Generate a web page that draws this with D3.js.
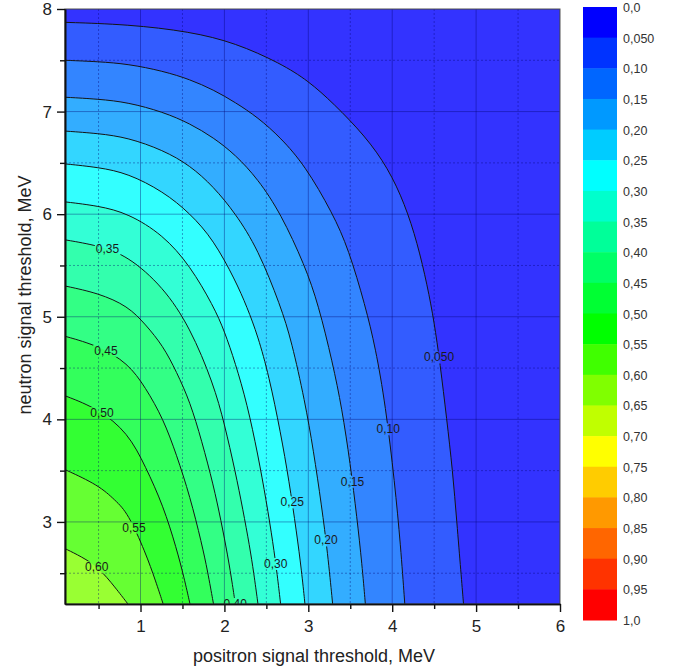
<!DOCTYPE html>
<html><head><meta charset="utf-8">
<script src="https://cdn.jsdelivr.net/npm/d3@7"></script>
<style>
body{margin:0;background:#fff;}
text{font-family: Arial, "Liberation Sans", sans-serif;}
</style>
</head><body>
<svg id="chart" width="681" height="671"></svg>
<script>
// ---------- data ----------
const levels = [0.05,0.10,0.15,0.20,0.25,0.30,0.35,0.40,0.45,0.50,0.55,0.60];
const levelLabels = ["0,050","0,10","0,15","0,20","0,25","0,30","0,35","0,40","0,45","0,50","0,55","0,60"];
// contour lines: [positron threshold, neutron threshold]
const c005 = [[0.1,7.87],[0.85,7.85],[1.59,7.78],[2.13,7.67],[2.67,7.47],[3.0,7.3],[3.3,7.08],[3.68,6.76],[3.95,6.45],[4.15,6.1],[4.3,5.72],[4.42,5.3],[4.5,4.95],[4.57,4.55],[4.65,4.0],[4.72,3.5],[4.77,3.0],[4.82,2.5],[4.85,2.2]];
const c010 = [[0.1,7.50],[0.5,7.487],[0.85,7.464],[1.27,7.395],[1.59,7.313],[1.87,7.212],[2.13,7.09],[2.40,6.942],[2.67,6.746],[2.96,6.475],[3.29,6.009],[3.48,5.66],[3.68,5.104],[3.80,4.70],[3.92,4.14],[4.03,3.38],[4.10,2.77],[4.15,2.2]];
const c015 = [[0.1,7.14],[0.5,7.122],[0.85,7.09],[1.27,6.996],[1.59,6.883],[1.87,6.746],[2.13,6.58],[2.40,6.342],[2.67,6.009],[2.96,5.498],[3.12,5.119],[3.29,4.549],[3.40,4.11],[3.50,3.568],[3.58,3.04],[3.64,2.586],[3.68,2.2]];
const c020 = [[0.1,6.81],[0.5,6.787],[0.85,6.746],[1.27,6.624],[1.59,6.475],[1.87,6.268],[2.13,6.009],[2.40,5.66],[2.67,5.104],[2.80,4.765],[2.96,4.172],[3.06,3.704],[3.16,3.148],[3.23,2.70],[3.29,2.2]];
const c025 = [[0.1,6.49],[0.5,6.457],[0.85,6.398],[1.27,6.221],[1.59,6.009],[1.87,5.75],[2.13,5.356],[2.27,5.094],[2.40,4.81],[2.53,4.427],[2.67,3.87],[2.77,3.402],[2.86,2.90],[2.92,2.52],[2.96,2.2]];
const c030 = [[0.1,6.12],[0.5,6.081],[0.85,6.009],[1.27,5.798],[1.59,5.498],[1.87,5.104],[2.00,4.862],[2.13,4.549],[2.27,4.154],[2.40,3.654],[2.50,3.202],[2.58,2.789],[2.63,2.485],[2.67,2.2]];
const c035 = [[0.1,5.75],[0.5,5.694],[0.85,5.593],[1.27,5.291],[1.59,4.898],[1.87,4.346],[2.00,3.959],[2.13,3.49],[2.22,3.122],[2.30,2.765],[2.35,2.505],[2.40,2.2]];
const c040 = [[0.1,5.30],[0.5,5.23],[0.85,5.104],[1.06,4.925],[1.27,4.715],[1.43,4.462],[1.59,4.172],[1.73,3.79],[1.87,3.356],[1.96,3.01],[2.04,2.673],[2.10,2.368],[2.13,2.2]];
const c045 = [[0.1,4.81],[0.5,4.717],[0.85,4.549],[1.06,4.31],[1.27,4.007],[1.43,3.654],[1.59,3.248],[1.73,2.789],[1.80,2.52],[1.87,2.2]];
const c050 = [[0.1,4.23],[0.5,4.102],[0.85,3.87],[1.06,3.54],[1.27,3.16],[1.43,2.74],[1.52,2.455],[1.59,2.2]];
const c055 = [[0.1,3.51],[0.5,3.359],[0.70,3.21],[0.85,3.087],[1.06,2.70],[1.18,2.425],[1.27,2.2]];
const c060 = [[0.1,2.74],[0.3,2.66],[0.5,2.557],[0.70,2.36],[0.85,2.2]];
const contourLines = [c005,c010,c015,c020,c025,c030,c035,c040,c045,c050,c055,c060];
// approximate label anchor positions (data units)
const labelAt = [[4.53,4.60],[3.91,3.90],[3.50,3.39],[3.20,2.82],[2.80,3.19],[2.60,2.59],[0.61,5.67],[2.13,2.2],[0.60,4.69],[0.565,4.09],[0.91,2.94],[0.51,2.59]];

const bandColors = ["#0000ff","#0033ff","#0066ff","#0099ff","#00ccff","#00ffff","#00ffcc","#00ff99","#00ff66","#00ff33",
                    "#00ff00","#40ff00","#80ff00","#c0ff00","#ffff00","#ffcc00","#ff9900","#ff6600","#ff3300","#ff0000"];
const colorbarLabels = ["0,0","0,050","0,10","0,15","0,20","0,25","0,30","0,35","0,40","0,45","0,50",
                        "0,55","0,60","0,65","0,70","0,75","0,80","0,85","0,90","0,95","1,0"];
const xTicks = [1,2,3,4,5,6];
const xMinor = [0.5,1.5,2.5,3.5,4.5,5.5];
const yTicks = [3,4,5,6,7,8];
const yMinor = [2.5,3.5,4.5,5.5,6.5,7.5];
const xTitle = "positron signal threshold, MeV";
const yTitle = "neutron signal threshold, MeV";

// ---------- drawing ----------
const svg = d3.select("#chart");
const L = 65, R = 560, T = 9, B = 604;
const x = d3.scaleLinear().domain([0.1,6]).range([L,R]);
const y = d3.scaleLinear().domain([2.2,8]).range([B,T]);
const plotColors = bandColors.map(c => d3.interpolateRgb("#ffffff", c)(0.8));

const defs = svg.append("defs");
defs.append("clipPath").attr("id","plotClip").append("rect")
  .attr("x",L).attr("y",T).attr("width",R-L).attr("height",B-T);

const plot = svg.append("g").attr("clip-path","url(#plotClip)");
plot.append("rect").attr("x",L).attr("y",T).attr("width",R-L).attr("height",B-T).attr("fill",plotColors[0]);

const line = d3.line().x(d=>x(d[0])).y(d=>y(d[1])).curve(d3.curveBasis);

contourLines.forEach((pts,i)=>{
  plot.append("path")
    .attr("d", line(pts) + "L" + x(0.1) + "," + y(2.2) + "Z")
    .attr("fill", plotColors[i+1]);
});

// grid
const gridCol = "rgba(0,0,110,0.38)";
plot.selectAll(".gx").data(xTicks).join("line")
  .attr("x1",d=>x(d)).attr("x2",d=>x(d)).attr("y1",T).attr("y2",B)
  .attr("stroke",gridCol).attr("stroke-width",1);
plot.selectAll(".gy").data(yTicks).join("line")
  .attr("y1",d=>y(d)).attr("y2",d=>y(d)).attr("x1",L).attr("x2",R)
  .attr("stroke",gridCol).attr("stroke-width",1);
plot.selectAll(".gxm").data(xMinor).join("line")
  .attr("x1",d=>x(d)).attr("x2",d=>x(d)).attr("y1",T).attr("y2",B)
  .attr("stroke",gridCol).attr("stroke-width",1).attr("stroke-dasharray","2,2");
plot.selectAll(".gym").data(yMinor).join("line")
  .attr("y1",d=>y(d)).attr("y2",d=>y(d)).attr("x1",L).attr("x2",R)
  .attr("stroke",gridCol).attr("stroke-width",1).attr("stroke-dasharray","2,2");

// contour lines with label gaps
const mask = defs.append("mask").attr("id","lblMask").attr("maskUnits","userSpaceOnUse")
  .attr("x",0).attr("y",0).attr("width",681).attr("height",671);
mask.append("rect").attr("x",0).attr("y",0).attr("width",681).attr("height",671).attr("fill","#fff");

const linesG = plot.append("g").attr("mask","url(#lblMask)");
const labelsG = plot.append("g");
contourLines.forEach((pts,i)=>{
  const p = linesG.append("path").attr("d", line(pts))
    .attr("fill","none").attr("stroke","#151515").attr("stroke-width",1);
  const node = p.node();
  const len = node.getTotalLength();
  const tx = x(labelAt[i][0]), ty = y(labelAt[i][1]);
  let best = null, bd = Infinity;
  for (let s=0; s<=len; s+=0.5){
    const q = node.getPointAtLength(s);
    const dd = (q.x-tx)*(q.x-tx)+(q.y-ty)*(q.y-ty);
    if (dd<bd){bd=dd;best=q;}
  }
  const t = labelsG.append("text").attr("x",best.x).attr("y",best.y)
    .attr("text-anchor","middle").attr("dominant-baseline","central")
    .attr("font-size",12).attr("fill","#1a1a1a").text(levelLabels[i]);
  const bb = t.node().getBBox();
  mask.append("rect").attr("x",bb.x-1).attr("y",bb.y+1).attr("width",bb.width+2).attr("height",bb.height-2).attr("fill","#000");
});

// frame
svg.append("rect").attr("x",L).attr("y",T).attr("width",R-L).attr("height",B-T)
  .attr("fill","none").attr("stroke","#555").attr("stroke-width",1);

// axes
const fs = 17;
const yAx = svg.append("g").attr("transform",`translate(${L},0)`)
  .call(d3.axisLeft(y).tickValues(yTicks).tickFormat(d=>String(d)).tickSize(8).tickSizeOuter(0).tickPadding(5));
const yAxMinor = svg.append("g").attr("transform",`translate(${L},0)`)
  .call(d3.axisLeft(y).tickValues(yMinor).tickFormat("").tickSize(5).tickSizeOuter(0));
const xAx = svg.append("g").attr("transform",`translate(0,${B})`)
  .call(d3.axisBottom(x).tickValues(xTicks).tickFormat(d=>String(d)).tickSize(8).tickSizeOuter(0).tickPadding(8));
const xAxMinor = svg.append("g").attr("transform",`translate(0,${B})`)
  .call(d3.axisBottom(x).tickValues(xMinor).tickFormat("").tickSize(5).tickSizeOuter(0));
[yAx,yAxMinor,xAx,xAxMinor].forEach(g=>{
  g.select(".domain").attr("stroke","#111").attr("stroke-width",1.6);
  g.selectAll(".tick line").attr("stroke","#111").attr("stroke-width",1.4);
  g.selectAll(".tick text").attr("font-size",fs).attr("fill","#222")
    .attr("font-family",'Arial, "Liberation Sans", sans-serif');
});

svg.append("text").attr("x",314).attr("y",662).attr("text-anchor","middle")
  .attr("font-size",18).attr("fill","#222").text(xTitle);
svg.append("text").attr("transform","translate(31,295) rotate(-90)").attr("text-anchor","middle")
  .attr("font-size",18).attr("fill","#222").text(yTitle);

// colorbar
const cbX = 583, cbW = 34;
const cb = d3.scaleLinear().domain([0,1]).range([7,620]);
const bandEdges = d3.range(bandColors.length+1).map(i=>i/bandColors.length);
svg.append("g").selectAll("rect").data(bandColors).join("rect")
  .attr("x",cbX).attr("width",cbW)
  .attr("y",(d,i)=>cb(bandEdges[i])).attr("height",(d,i)=>cb(bandEdges[i+1])-cb(bandEdges[i])+0.5)
  .attr("fill",d=>d);
svg.append("g").selectAll("text").data(colorbarLabels).join("text")
  .attr("x",623).attr("y",(d,i)=>cb(bandEdges[i])+1)
  .attr("dominant-baseline","central").attr("font-size",12.5).attr("fill","#333")
  .text(d=>d);
</script>
</body></html>
